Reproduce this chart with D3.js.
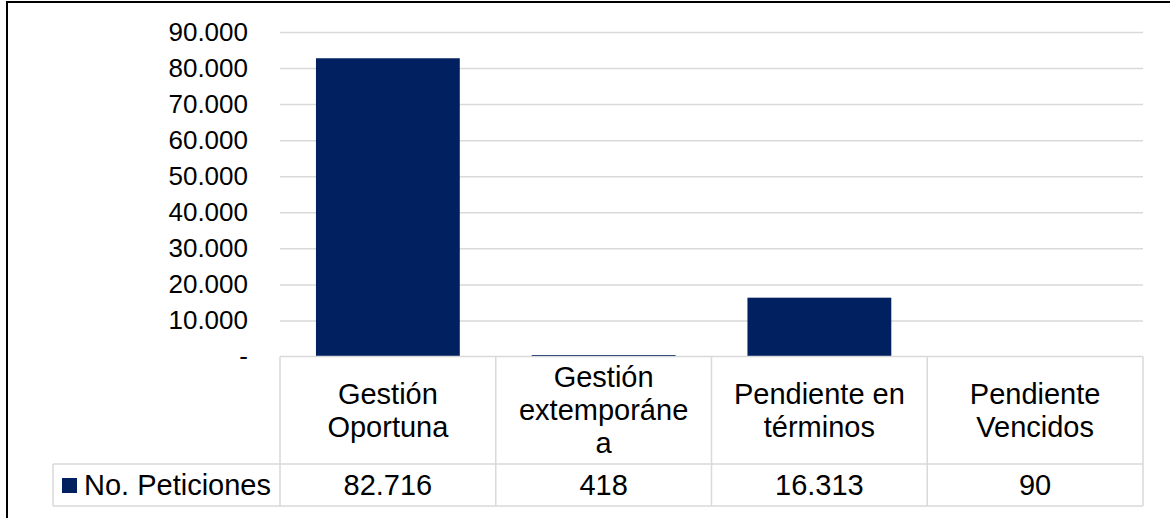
<!DOCTYPE html>
<html>
<head>
<meta charset="utf-8">
<script src="https://cdn.jsdelivr.net/npm/d3@7"></script>
<style>
  body { margin: 0; background: #fff; }
  svg { display: block; font-family: "Liberation Sans", Arial, sans-serif; }
</style>
</head>
<body>
<div id="chart"></div>
<script>
// data
var categories = ["Gestión Oportuna", "Gestión extemporánea", "Pendiente en términos", "Pendiente Vencidos"];
var categoryLines = [["Gestión", "Oportuna"], ["Gestión", "extemporáne", "a"], ["Pendiente en", "términos"], ["Pendiente", "Vencidos"]];
var seriesName = "No. Peticiones";
var values = [82716, 418, 16313, 90];
var yTicks = [0, 10000, 20000, 30000, 40000, 50000, 60000, 70000, 80000, 90000];

var width = 1170, height = 518;
var barColor = "#002060";
var gridColor = "#d9d9d9";
var axisFont = 26;
var tableFont = 29;

var es = d3.formatLocale({decimal: ",", thousands: ".", grouping: [3], currency: ["$", ""]});
var fmt = es.format(",.0f");

var svg = d3.select("#chart").append("svg")
  .attr("width", width)
  .attr("height", height);

// chart frame (only top and left edge show in the picture)
svg.append("rect")
  .attr("x", 7).attr("y", 2)
  .attr("width", width + 20).attr("height", height + 20)
  .attr("fill", "#fff")
  .attr("stroke", "#000")
  .attr("stroke-width", 2);

var plotLeft = 280, plotRight = 1143;
var tableTop = 356.5, rowSplit = 464, tableBottom = 506, legendLeft = 53;

var x = d3.scaleBand()
  .domain(categories)
  .range([plotLeft, plotRight])
  .paddingInner(0)
  .paddingOuter(0);

var y = d3.scaleLinear()
  .domain([0, 90000])
  .range([tableTop, 32]);

// gridlines + y labels via axis
var yAxis = d3.axisLeft(y)
  .tickValues(yTicks)
  .tickSize(-(plotRight - plotLeft))
  .tickPadding(32)
  .tickFormat(function(d) { return d === 0 ? "-" : fmt(d); });

var gy = svg.append("g")
  .attr("transform", "translate(" + plotLeft + ",0)")
  .call(yAxis);
gy.select(".domain").remove();
gy.selectAll(".tick line")
  .attr("stroke", gridColor)
  .attr("stroke-width", 1.5)
  .attr("display", function(d) { return d === 0 ? "none" : null; });
gy.selectAll(".tick text")
  .attr("font-size", axisFont)
  .attr("font-family", "'Liberation Sans', Arial, sans-serif")
  .attr("fill", "#000");

// bars: 1/6 band gap each side
var barPad = x.bandwidth() / 6;
svg.selectAll(".bar")
  .data(values)
  .enter().append("rect")
  .attr("class", "bar")
  .attr("x", function(d, i) { return x(categories[i]) + barPad; })
  .attr("width", x.bandwidth() - 2 * barPad)
  .attr("y", function(d) { return y(d); })
  .attr("height", function(d) { return y(0) - y(d); })
  .attr("fill", barColor);

// data table
var table = svg.append("g").attr("stroke", gridColor).attr("stroke-width", 1.5).attr("fill", "none");
table.append("line").attr("x1", plotLeft).attr("x2", plotRight).attr("y1", tableTop).attr("y2", tableTop);
table.append("line").attr("x1", legendLeft).attr("x2", plotRight).attr("y1", rowSplit).attr("y2", rowSplit);
table.append("line").attr("x1", legendLeft).attr("x2", plotRight).attr("y1", tableBottom).attr("y2", tableBottom);
table.append("line").attr("x1", legendLeft).attr("x2", legendLeft).attr("y1", rowSplit).attr("y2", tableBottom);
var colEdges = categories.map(function(c) { return x(c); }).concat([plotRight]);
table.selectAll(".vline")
  .data(colEdges)
  .enter().append("line")
  .attr("x1", function(d) { return d; })
  .attr("x2", function(d) { return d; })
  .attr("y1", tableTop)
  .attr("y2", tableBottom);

// category labels
var lineH = 33;
var catMid = (tableTop + rowSplit) / 2;
categories.forEach(function(c, i) {
  var lines = categoryLines[i];
  var t = svg.append("text")
    .attr("text-anchor", "middle")
    .attr("font-size", tableFont)
    .attr("fill", "#000");
  lines.forEach(function(l, j) {
    t.append("tspan")
      .attr("x", x(c) + x.bandwidth() / 2)
      .attr("y", catMid + (j - (lines.length - 1) / 2) * lineH)
      .attr("dy", "0.35em")
      .text(l);
  });
});

// values row
var valMid = (rowSplit + tableBottom) / 2;
svg.selectAll(".val")
  .data(values)
  .enter().append("text")
  .attr("x", function(d, i) { return x(categories[i]) + x.bandwidth() / 2; })
  .attr("y", valMid)
  .attr("dy", "0.35em")
  .attr("text-anchor", "middle")
  .attr("font-size", tableFont)
  .text(function(d) { return fmt(d); });

// legend key in table
svg.append("rect")
  .attr("x", 62).attr("y", valMid - 7)
  .attr("width", 15).attr("height", 15)
  .attr("fill", barColor);
svg.append("text")
  .attr("x", 84)
  .attr("y", valMid)
  .attr("dy", "0.35em")
  .attr("font-size", tableFont)
  .text(seriesName);
</script>
</body>
</html>
